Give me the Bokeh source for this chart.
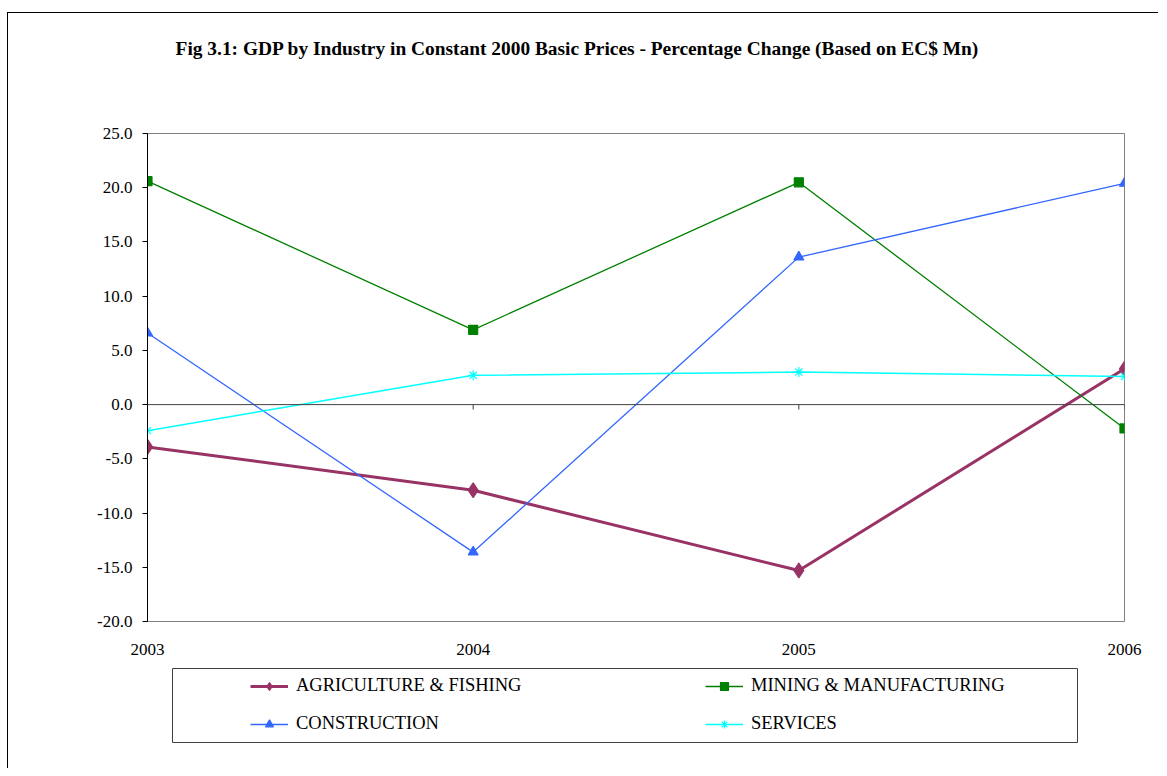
from bokeh.plotting import figure
from bokeh.models import Span, Legend, LegendItem, FixedTicker, NumeralTickFormatter, Range1d, Label
from bokeh.layouts import column
from bokeh.embed import file_html
from bokeh.resources import INLINE

# ---------------- data ----------------
years = [2003, 2004, 2005, 2006]
agriculture = [-3.9, -7.9, -15.3, 3.3]
mining = [20.6, 6.9, 20.5, -2.2]
construction = [6.6, -13.6, 13.6, 20.4]
services = [-2.4, 2.7, 3.0, 2.6]
series_names = ["AGRICULTURE & FISHING", "MINING & MANUFACTURING", "CONSTRUCTION", "SERVICES"]
y_ticks = [-20, -15, -10, -5, 0, 5, 10, 15, 20, 25]
title_text = "Fig 3.1: GDP by Industry in Constant 2000 Basic Prices - Percentage Change (Based on EC$ Mn)"

FONT = "Liberation Serif"
Y_MIN, Y_MAX = -20, 25
W = 1150

styles = [
    dict(color="#993366", width=3, marker="diamond", size=15),
    dict(color="#008000", width=1.3, marker="square", size=9),
    dict(color="#3366FF", width=1.3, marker="triangle", size=10),
    dict(color="#00FFFF", width=1.5, marker="asterisk", size=10),
]
values = [agriculture, mining, construction, services]

# ---------------- title strip ----------------
TH = 70
t = figure(width=W, height=TH, output_backend="svg", toolbar_location=None,
           x_range=Range1d(0, W), y_range=Range1d(0, TH),
           min_border_left=0, min_border_right=0, min_border_top=0, min_border_bottom=0)
t.frame_align = False
t.axis.visible = False
t.grid.visible = False
t.outline_line_color = None
t.border_fill_color = "white"
t.add_layout(Label(x=569, y=TH - 35, text=title_text, text_font=FONT, text_font_size="19.4px",
                   text_font_style="bold", text_align="center", text_baseline="middle",
                   text_color="black"))

# ---------------- main chart ----------------
p = figure(width=W, height=647 - TH, output_backend="svg", toolbar_location=None,
           x_range=Range1d(years[0], years[-1]), y_range=Range1d(Y_MIN, Y_MAX),
           min_border_left=139, min_border_right=34, min_border_top=120 - TH, min_border_bottom=39)
p.frame_align = False
p.background_fill_color = "white"
p.border_fill_color = "white"
p.outline_line_color = "#808080"
p.outline_line_width = 1
p.grid.visible = False

# y axis
p.yaxis.ticker = FixedTicker(ticks=y_ticks)
p.yaxis.formatter = NumeralTickFormatter(format="0.0")
p.yaxis.major_label_text_font = FONT
p.yaxis.major_label_text_font_size = "17px"
p.yaxis.major_label_text_color = "black"
p.yaxis.axis_line_color = "black"
p.yaxis.major_tick_line_color = "black"
p.yaxis.major_tick_out = 5
p.yaxis.major_tick_in = 0
p.yaxis.minor_tick_line_color = None
p.yaxis.major_label_standoff = 10

# x axis: labels only, below the plot area
p.xaxis.ticker = FixedTicker(ticks=years)
p.xaxis.major_label_overrides = {y: str(y) for y in years}
p.xaxis.major_label_text_font = FONT
p.xaxis.major_label_text_font_size = "17px"
p.xaxis.major_label_text_color = "black"
p.xaxis.axis_line_color = None
p.xaxis.major_tick_line_color = None
p.xaxis.minor_tick_line_color = None
p.xaxis.major_label_standoff = 16

# category axis crossing at zero
frame_h = 621 - 133
p.add_layout(Span(location=0, dimension="width", line_color="#404040", line_width=1))
px_per_unit = frame_h / (Y_MAX - Y_MIN)
tick_len = 5 / px_per_unit
p.segment(x0=years[1:], y0=[0] * 3, x1=years[1:], y1=[-tick_len] * 3,
          line_color="#404040", line_width=1)

for vals, st in zip(values, styles):
    p.line(years, vals, line_color=st["color"], line_width=st["width"])
    p.scatter(years, vals, marker=st["marker"], size=st["size"],
              fill_color=st["color"], line_color=st["color"], line_width=1.2)

# ---------------- legend box ----------------
lg = figure(width=W, height=108, output_backend="svg", toolbar_location=None,
            x_range=Range1d(0, 1), y_range=Range1d(0, 1),
            min_border_left=164, min_border_right=81, min_border_top=8, min_border_bottom=26)
lg.frame_align = False
lg.axis.visible = False
lg.grid.visible = False
lg.outline_line_color = "#404040"
lg.outline_line_width = 1
lg.border_fill_color = "white"

items = {}
for name, vals, st in zip(series_names, values, styles):
    r1 = lg.line(years, vals, line_color=st["color"], line_width=st["width"])
    r2 = lg.scatter(years, vals, marker=st["marker"], size=st["size"] * 0.75,
                    fill_color=st["color"], line_color=st["color"], line_width=1.2)
    items[name] = LegendItem(label=name, renderers=[r1, r2])

# legend fills column by column: order so that rows read as in the reference
order = [series_names[0], series_names[2], series_names[1], series_names[3]]
legend = Legend(items=[items[n] for n in order], ncols=2, location=(78, 8),
                glyph_width=38, glyph_height=20, label_height=20, label_width=392,
                label_standoff=8, spacing=17, padding=0, margin=0,
                border_line_color=None, background_fill_alpha=0,
                label_text_font=FONT, label_text_font_size="18.5px", label_text_color="black")
lg.add_layout(legend, "center")

layout = column(t, p, lg, spacing=0,
                styles={"border-left": "1px solid black", "border-top": "1px solid black",
                        "margin-top": "12px", "margin-left": "7px"})

open("out.html", "w").write(file_html(layout, INLINE))
